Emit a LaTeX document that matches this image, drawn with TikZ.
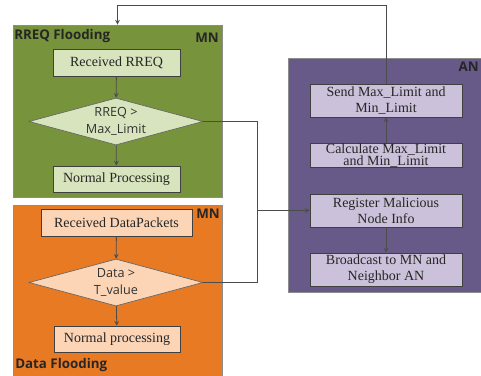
\documentclass[tikz,border=0pt]{standalone}
\usepackage{fontspec}
\setmainfont{Liberation Serif}
\setsansfont{Open Sans}
\usetikzlibrary{shapes.geometric}

\definecolor{mngreen}{HTML}{77933C}
\definecolor{mngreenlight}{HTML}{D7E4BD}
\definecolor{mnorange}{HTML}{E87A24}
\definecolor{mnorangelight}{HTML}{FBD5B5}
\definecolor{anpurple}{HTML}{675A88}
\definecolor{anpurplelight}{HTML}{CCC1DA}

\begin{document}
\begin{tikzpicture}[x=0.75pt,y=-0.75pt,>=stealth,
		panel/.style={rectangle,draw=black!45,line width=0.6pt,inner sep=0pt},
		paneltitle/.style={font=\sffamily\bfseries\fontsize{10}{12}\selectfont,inner sep=0pt,text=black!85},
		procbox/.style={rectangle,draw=black!75,line width=0.6pt,align=center,inner sep=0pt,
			font=\fontsize{10.5}{12}\selectfont,text=black!85},
		decision/.style={diamond,draw=black!60,line width=0.5pt,align=center,inner sep=0pt,aspect=3.7,
			minimum width=130.5pt,minimum height=35.25pt,font=\sffamily\fontsize{9.5}{12.5}\selectfont,text=black!80},
		link/.style={draw=black!70,line width=0.6pt}]
			\clip (0,0) rectangle (481,375);

			% panels
			\node at (117.5,111)   [panel,fill=mngreen,minimum width=156.75pt,minimum height=129pt] (rreqpanel) {};
			\node at (117.5,290.5) [panel,fill=mnorange,minimum width=156.75pt,minimum height=128.25pt] (datapanel) {};
			\node at (386,175)     [panel,fill=anpurple,minimum width=147pt,minimum height=175.5pt] (anpanel) {};

			\node at (14,36)  [paneltitle,anchor=west] (rreqtitle) {RREQ Flooding};
			\node at (219,38) [paneltitle,anchor=east] (rreqmn)    {MN};
			\node at (220,214)[paneltitle,anchor=east] (datamn)    {MN};
			\node at (15,365) [paneltitle,anchor=west] (datatitle) {Data Flooding};
			\node at (479,67) [paneltitle,anchor=east] (antitle)   {AN};

			% RREQ flooding
			\node at (116.5,62.5) [procbox,fill=mngreenlight,minimum width=95.25pt,minimum height=20.25pt] (rreqrecv) {Received RREQ};
			\node at (116,121.5)  [decision,fill=mngreenlight] (rreqtest) {RREQ >\\Max\_Limit};
			\node at (116.5,179)  [procbox,fill=mngreenlight,minimum width=95.25pt,minimum height=19.5pt] (rreqnormal) {Normal Processing};

			% data flooding
			\node at (116.5,222.5) [procbox,fill=mnorangelight,minimum width=113.25pt,minimum height=20.25pt] (datarecv) {Received DataPackets};
			\node at (116,282.5)   [decision,fill=mnorangelight] (datatest) {Data >\\T\_value};
			\node at (117,339)     [procbox,fill=mnorangelight,minimum width=94.5pt,minimum height=19.5pt] (datanormal) {Normal processing};

			% AN
			\node at (386,100.5) [procbox,fill=anpurplelight,minimum width=114pt,minimum height=24.75pt] (sendlimit) {Send Max\_Limit and\\Min\_Limit};
			\node at (386,155.5) [procbox,fill=anpurplelight,minimum width=114pt,minimum height=17.25pt,font=\fontsize{10.5}{9.5}\selectfont] (calclimit) {Calculate Max\_Limit\\and Min\_Limit};
			\node at (386,210.5) [procbox,fill=anpurplelight,minimum width=114pt,minimum height=24.75pt] (register)  {Register Malicious\\Node Info};
			\node at (386,269.5) [procbox,fill=anpurplelight,minimum width=114pt,minimum height=24.75pt] (broadcast) {Broadcast to MN and\\Neighbor AN};

			\coordinate (feedback) at (117.5,5);
			\coordinate (join)     at (257,210.5);

			\draw[->,link] (rreqrecv)  -- (rreqtest);
			\draw[->,link] (rreqtest)  -- (rreqnormal);
			\draw[->,link] (datarecv)  -- (datatest);
			\draw[->,link] (datatest)  -- (datanormal);
			\draw[->,link] (calclimit) -- (sendlimit);
			\draw[->,link] (register)  -- (broadcast);

			\draw[->,link] (sendlimit.north) |- (feedback) -- (rreqpanel.north);
			\draw[->,link] (rreqtest.east) -| (join) -- (register.west);
			\draw[link]    (datatest.east) -| (join);
		\end{tikzpicture}
\end{document}
